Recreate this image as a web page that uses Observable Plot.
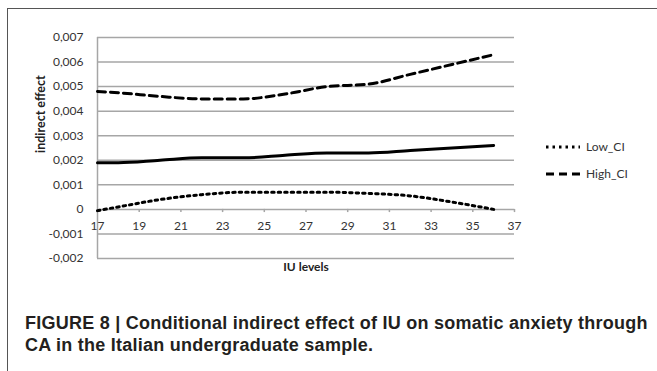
<!DOCTYPE html>
<html>
<head>
<meta charset="utf-8">
<script src="https://cdn.jsdelivr.net/npm/d3@7"></script>
<script src="https://cdn.jsdelivr.net/npm/@observablehq/plot@0.6"></script>
<style>
  html, body { margin: 0; padding: 0; background: #fff; }
  #wrap { position: relative; width: 657px; height: 371px; overflow: hidden; }
  #frame { position: absolute; left: 7px; top: 8px; width: 700px; height: 400px; border: 1.5px solid #555; box-sizing: border-box; }
  #chart { position: absolute; left: 0; top: 0; }
  #legend { position: absolute; left: 546px; top: 133px; font-family: Lato, "Open Sans", sans-serif; font-size: 12px; color: #333; }
  #legend .item { display: flex; align-items: center; height: 27px; }
  #legend svg { margin-right: 6px; }
  #caption { position: absolute; left: 25px; top: 312px; font-family: "Liberation Sans", Arial, sans-serif; font-weight: bold; font-size: 18px; letter-spacing: 0.25px; line-height: 22px; color: #231f20; white-space: nowrap; }
</style>
</head>
<body>
<div id="wrap">
  <div id="frame"></div>
  <div id="chart"></div>
  <div id="legend"></div>
  <div id="caption">FIGURE 8 | Conditional indirect effect of IU on somatic anxiety through<br>CA in the Italian undergraduate sample.</div>
</div>
<script>
// Data
const iuLevels = [17, 18, 20, 22, 24, 26, 28, 30, 32, 34, 36];
const indirectEffect = [0.0019, 0.0019, 0.0020, 0.0021, 0.0021, 0.0022, 0.0023, 0.0023, 0.0024, 0.0025, 0.0026];
const lowCI = [-0.00005, 0.0001, 0.0004, 0.0006, 0.0007, 0.0007, 0.0007, 0.00065, 0.00055, 0.0003, 0.0];
const highCI = [0.0048, 0.00475, 0.0046, 0.0045, 0.0045, 0.0047, 0.0050, 0.0051, 0.0055, 0.0059, 0.0063];
const xTicks = [17, 19, 21, 23, 25, 27, 29, 31, 33, 35, 37];
const yTicks = [-0.002, -0.001, 0, 0.001, 0.002, 0.003, 0.004, 0.005, 0.006, 0.007];
const seriesNames = ["Low_CI", "High_CI"];

const fmt = v => v === 0 ? "0" : (v < 0 ? "-" : "") + Math.abs(v).toFixed(3).replace(".", ",");

const rows = iuLevels.map((x, i) => ({x, mid: indirectEffect[i], low: lowCI[i], high: highCI[i]}));
const font = "Lato, 'Open Sans', sans-serif";
const lineW = 3;

const chart = Plot.plot({
  width: 657,
  height: 290,
  marginLeft: 97,
  marginRight: 143,
  marginTop: 37,
  marginBottom: 32,
  style: {fontFamily: font, fontSize: "12px", color: "#333", background: "transparent"},
  x: {domain: [17, 37]},
  y: {domain: [-0.002, 0.007]},
  marks: [
    Plot.gridY(yTicks, {stroke: "#a6a6a6", strokeOpacity: 1, strokeWidth: 1.5}),
    Plot.ruleX([17], {stroke: "#a6a6a6", strokeWidth: 1.5}),
    Plot.ruleX(xTicks, {x: d => d, y1: 0, y2: -0.00013, stroke: "#a6a6a6", strokeWidth: 1.5}),
    Plot.axisY(yTicks, {tickSize: 0, tickPadding: 14, tickFormat: fmt, label: null, fontSize: 12, fill: "#333"}),
    Plot.text(xTicks, {x: d => d, y: 0, dy: 17, text: d => String(d), fontSize: 12, fill: "#333"}),
    Plot.axisX({ticks: [], label: null}),
    Plot.text(["indirect effect"], {frameAnchor: "left", dx: -57, rotate: -90, fontWeight: "bold", fontSize: 12.5, fill: "#222", dy: 5}),
    Plot.text(["IU levels"], {frameAnchor: "bottom", dy: 12, fontWeight: "bold", fontSize: 12, fill: "#222"}),
    Plot.line(rows, {x: "x", y: "high", stroke: "#000", strokeWidth: lineW, strokeDasharray: "8,5", curve: "monotone-x"}),
    Plot.line(rows, {x: "x", y: "mid", stroke: "#000", strokeWidth: lineW, curve: "monotone-x"}),
    Plot.line(rows, {x: "x", y: "low", stroke: "#000", strokeWidth: lineW, strokeDasharray: "2.5,4", curve: "monotone-x"})
  ]
});
document.getElementById("chart").append(chart);

// Legend
const dashes = {"Low_CI": "2.5,4", "High_CI": "8,5"};
const legend = document.getElementById("legend");
for (const name of seriesNames) {
  const item = document.createElement("div");
  item.className = "item";
  item.innerHTML = `<svg width="34" height="6"><line x1="0" x2="34" y1="3" y2="3" stroke="#000" stroke-width="3" stroke-dasharray="${dashes[name]}"/></svg><span>${name}</span>`;
  legend.append(item);
}
</script>
</body>
</html>
